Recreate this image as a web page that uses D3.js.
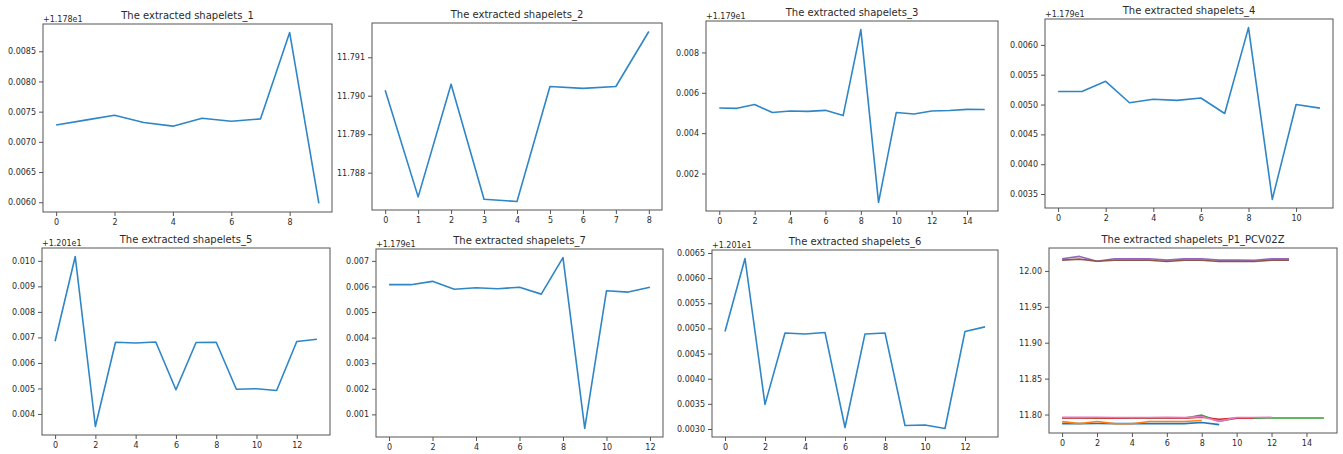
<!DOCTYPE html>
<html>
<head>
<meta charset="utf-8">
<script src="https://cdn.jsdelivr.net/npm/d3@7"></script>
<style>
  body { margin: 0; background: #fff; }
  svg { display: block; }
  text { font-family: "DejaVu Sans", sans-serif; fill: #2b2b2b; }
</style>
</head>
<body>
<svg id="chart" width="1343" height="454"></svg>
<script>
// shapelet values, shown as residuals above the matplotlib offset
var shapelet1 = [0.00728, 0.00736, 0.00744, 0.00732, 0.00726, 0.00739, 0.00734, 0.00738, 0.00881, 0.00598];
var offset1 = 11.78;
var shapelet2 = [11.79014, 11.78737, 11.79030, 11.78731, 11.78725, 11.79024, 11.79019, 11.79024, 11.79167];
var offset2 = 0;
var shapelet3 = [0.00525, 0.00523, 0.00542, 0.00502, 0.00510, 0.00508, 0.00513, 0.00487, 0.00913, 0.00057, 0.00502, 0.00495, 0.00510, 0.00512, 0.00518, 0.00517];
var offset3 = 11.79;
var shapelet4 = [0.00522, 0.00522, 0.00539, 0.00503, 0.00509, 0.00507, 0.00511, 0.00485, 0.00629, 0.00341, 0.00500, 0.00494];
var offset4 = 11.79;
var shapelet5 = [0.00685, 0.01017, 0.00351, 0.00681, 0.00678, 0.00682, 0.00495, 0.00680, 0.00681, 0.00497, 0.00499, 0.00492, 0.00684, 0.00693];
var offset5 = 12.01;
var shapelet6 = [0.00494, 0.00639, 0.00349, 0.00491, 0.00489, 0.00492, 0.00303, 0.00489, 0.00491, 0.00307, 0.00308, 0.00301, 0.00494, 0.00503];
var offset6 = 12.01;
var shapelet7 = [0.00607, 0.00607, 0.00620, 0.00589, 0.00595, 0.00591, 0.00597, 0.00570, 0.00713, 0.00045, 0.00583, 0.00578, 0.00597];
var offset7 = 11.79;

// tick values
var yTicks1 = [0.0060, 0.0065, 0.0070, 0.0075, 0.0080, 0.0085];
var yTicks2 = [11.788, 11.789, 11.790, 11.791];
var yTicks3 = [0.002, 0.004, 0.006, 0.008];
var yTicks4 = [0.0035, 0.0040, 0.0045, 0.0050, 0.0055, 0.0060];
var yTicks5 = [0.004, 0.005, 0.006, 0.007, 0.008, 0.009, 0.010];
var yTicks6 = [0.0030, 0.0035, 0.0040, 0.0045, 0.0050, 0.0055, 0.0060, 0.0065];
var yTicks7 = [0.001, 0.002, 0.003, 0.004, 0.005, 0.006, 0.007];
var yTicksAll = [11.80, 11.85, 11.90, 11.95, 12.00];
var xTicks1 = [0, 2, 4, 6, 8];
var xTicks2 = [0, 1, 2, 3, 4, 5, 6, 7, 8];
var xTicks3 = [0, 2, 4, 6, 8, 10, 12, 14];
var xTicks4 = [0, 2, 4, 6, 8, 10];
var xTicks5 = [0, 2, 4, 6, 8, 10, 12];
var xTicksAll = [0, 2, 4, 6, 8, 10, 12, 14];

var tab10 = ["#1f77b4", "#ff7f0e", "#2ca02c", "#d62728", "#9467bd", "#8c564b", "#e377c2"];

var svg = d3.select("#chart");

// axes boxes [left, top, right, bottom], as placed in the composite picture
var panels = [
    {title: "The extracted shapelets_1", box: [43, 24, 332, 212], series: [shapelet1], offsets: [0], yTicks: yTicks1, xTicks: xTicks1, shown: offset1},
    {title: "The extracted shapelets_2", box: [372, 23, 662, 210], series: [shapelet2], offsets: [0], yTicks: yTicks2, xTicks: xTicks2, shown: offset2},
    {title: "The extracted shapelets_3", box: [706, 21, 998, 211], series: [shapelet3], offsets: [0], yTicks: yTicks3, xTicks: xTicks3, shown: offset3},
    {title: "The extracted shapelets_4", box: [1045, 19, 1333, 208], series: [shapelet4], offsets: [0], yTicks: yTicks4, xTicks: xTicks4, shown: offset4},
    {title: "The extracted shapelets_5", box: [42, 248, 330, 435], series: [shapelet5], offsets: [0], yTicks: yTicks5, xTicks: xTicks5, shown: offset5},
    {title: "The extracted shapelets_7", box: [376, 249, 663, 437], series: [shapelet7], offsets: [0], yTicks: yTicks7, xTicks: xTicks5, shown: offset7},
    {title: "The extracted shapelets_6", box: [712, 250, 998, 437], series: [shapelet6], offsets: [0], yTicks: yTicks6, xTicks: xTicks5, shown: offset6},
    {title: "The extracted shapelets_P1_PCV02Z", box: [1049, 248, 1337, 433],
     series: [shapelet1, shapelet2, shapelet3, shapelet4, shapelet5, shapelet6, shapelet7],
     offsets: [offset1, offset2, offset3, offset4, offset5, offset6, offset7],
     yTicks: yTicksAll, xTicks: xTicksAll, shown: 0}
];

panels.forEach(function (p) {
    var left = p.box[0], top = p.box[1], right = p.box[2], bottom = p.box[3];
    var lines = p.series.map(function (s, i) {
        return s.map(function (v, j) { return [j, v + p.offsets[i]]; });
    });
    var all = d3.merge(lines);
    var xMax = d3.max(all, function (d) { return d[0]; });
    var yExt = d3.extent(all, function (d) { return d[1]; });
    var yPad = (yExt[1] - yExt[0]) * 0.05;

    var x = d3.scaleLinear().domain([-0.05 * xMax, xMax * 1.05]).range([left, right]);
    var y = d3.scaleLinear().domain([yExt[0] - yPad, yExt[1] + yPad]).range([bottom, top]);

    var g = svg.append("g");
    var step = +(p.yTicks[1] - p.yTicks[0]).toPrecision(3);
    var yFmt = d3.format("." + d3.precisionFixed(step) + "f");

    var xAxis = g.append("g").attr("transform", "translate(0," + bottom + ")")
        .call(d3.axisBottom(x).tickValues(p.xTicks).tickSize(4).tickPadding(3.5).tickFormat(d3.format("d")));
    var yAxis = g.append("g").attr("transform", "translate(" + left + ",0)")
        .call(d3.axisLeft(y).tickValues(p.yTicks).tickSize(4).tickPadding(3).tickFormat(yFmt));
    [xAxis, yAxis].forEach(function (a) {
        a.select(".domain").remove();
        a.selectAll("line").attr("stroke", "#555");
        a.selectAll("text").style("font-family", "DejaVu Sans").style("font-size", "8px").attr("fill", "#2b2b2b");
    });

    var line = d3.line().x(function (d) { return x(d[0]); }).y(function (d) { return y(d[1]); });
    lines.forEach(function (pts, i) {
        g.append("path").attr("d", line(pts))
            .attr("fill", "none")
            .attr("stroke", p.series.length > 1 ? tab10[i] : "#2f86c6")
            .attr("stroke-width", 1.6)
            .attr("stroke-linejoin", "round");
    });

    g.append("rect").attr("x", left).attr("y", top)
        .attr("width", right - left).attr("height", bottom - top)
        .attr("fill", "none").attr("stroke", "#555").attr("stroke-width", 1);

    g.append("text").attr("x", (left + right) / 2).attr("y", top - 5.5)
        .attr("text-anchor", "middle").style("font-size", "10px").text(p.title);

    if (p.shown) {
        g.append("text").attr("x", left).attr("y", top - 2.5)
            .style("font-size", "8px").text("+" + d3.format(".3e")(p.shown).replace("e+", "e"));
    }
});
</script>
</body>
</html>
